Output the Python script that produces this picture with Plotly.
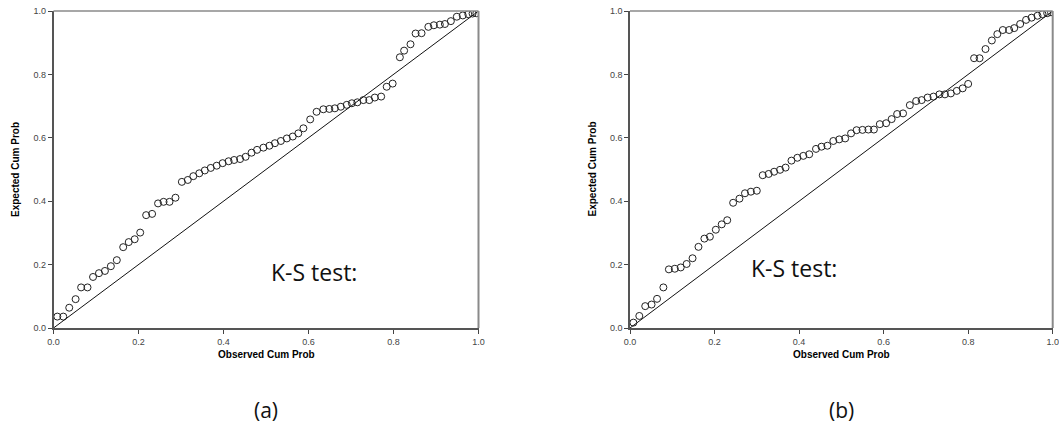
import plotly.graph_objects as go

# Panel (a) observed vs expected cumulative probabilities
obs_a = [0.009, 0.023, 0.037, 0.052, 0.065, 0.080, 0.093, 0.107, 0.121, 0.135,
         0.149, 0.164, 0.177, 0.191, 0.204, 0.218, 0.232, 0.246, 0.259, 0.273,
         0.287, 0.302, 0.316, 0.329, 0.343, 0.356, 0.370, 0.384, 0.398, 0.412,
         0.425, 0.439, 0.452, 0.466, 0.479, 0.494, 0.508, 0.521, 0.535, 0.549,
         0.563, 0.576, 0.588, 0.604, 0.619, 0.635, 0.649, 0.662, 0.676, 0.690,
         0.702, 0.715, 0.729, 0.743, 0.756, 0.771, 0.784, 0.798, 0.815, 0.825,
         0.840, 0.852, 0.866, 0.882, 0.895, 0.909, 0.921, 0.935, 0.949, 0.963,
         0.976, 0.986, 0.995]
exp_a = [0.036, 0.036, 0.064, 0.091, 0.128, 0.128, 0.161, 0.173, 0.180, 0.195,
         0.214, 0.255, 0.271, 0.280, 0.301, 0.356, 0.360, 0.393, 0.398, 0.398,
         0.411, 0.461, 0.467, 0.479, 0.488, 0.497, 0.505, 0.512, 0.520, 0.526,
         0.530, 0.533, 0.540, 0.553, 0.562, 0.569, 0.575, 0.583, 0.590, 0.598,
         0.604, 0.614, 0.630, 0.658, 0.682, 0.690, 0.691, 0.693, 0.698, 0.704,
         0.709, 0.712, 0.719, 0.719, 0.727, 0.730, 0.761, 0.771, 0.854, 0.875,
         0.895, 0.929, 0.930, 0.950, 0.955, 0.957, 0.959, 0.968, 0.982, 0.986,
         0.990, 0.992, 0.993]

# Panel (b)
obs_b = [0.008, 0.022, 0.036, 0.051, 0.064, 0.079, 0.092, 0.106, 0.120, 0.134,
         0.148, 0.162, 0.176, 0.189, 0.203, 0.217, 0.230, 0.244, 0.259, 0.272,
         0.286, 0.300, 0.314, 0.328, 0.341, 0.355, 0.368, 0.382, 0.396, 0.410,
         0.424, 0.440, 0.453, 0.467, 0.481, 0.495, 0.509, 0.523, 0.536, 0.550,
         0.564, 0.577, 0.591, 0.606, 0.619, 0.632, 0.646, 0.662, 0.677, 0.690,
         0.704, 0.718, 0.732, 0.745, 0.759, 0.773, 0.787, 0.800, 0.814, 0.827,
         0.841, 0.856, 0.869, 0.882, 0.897, 0.909, 0.923, 0.937, 0.950, 0.964,
         0.976, 0.987, 0.996]
exp_b = [0.017, 0.038, 0.069, 0.074, 0.092, 0.128, 0.185, 0.187, 0.191, 0.202,
         0.220, 0.256, 0.282, 0.288, 0.310, 0.327, 0.340, 0.395, 0.408, 0.425,
         0.430, 0.433, 0.482, 0.486, 0.493, 0.499, 0.506, 0.528, 0.537, 0.543,
         0.548, 0.565, 0.572, 0.575, 0.590, 0.595, 0.598, 0.614, 0.624, 0.625,
         0.626, 0.626, 0.643, 0.646, 0.659, 0.675, 0.677, 0.703, 0.716, 0.719,
         0.727, 0.730, 0.737, 0.737, 0.740, 0.748, 0.756, 0.770, 0.851, 0.851,
         0.880, 0.907, 0.927, 0.940, 0.940, 0.946, 0.959, 0.972, 0.979, 0.985,
         0.990, 0.993, 0.996]

ref_line = [0.0, 1.0]
tick_vals = [0.0, 0.2, 0.4, 0.6, 0.8, 1.0]
tick_text = ["0.0", "0.2", "0.4", "0.6", "0.8", "1.0"]
x_title = "Observed Cum Prob"
y_title = "Expected Cum Prob"
ks_label = "K-S test:"
panel_labels = ["(a)", "(b)"]

W, H = 1059, 426
# plot-area pixel boxes (left, right, top, bottom)
boxes = [(53.5, 478.5, 11, 328), (630, 1052.7, 11, 328)]
ks_pos = [(313.5, 272), (794, 268)]

def px(x):
    return x / W

def py(y):
    return 1 - y / H

fig = go.Figure()
for i, (obs, exp) in enumerate([(obs_a, exp_a), (obs_b, exp_b)]):
    xa = "x" if i == 0 else "x2"
    ya = "y" if i == 0 else "y2"
    fig.add_trace(go.Scatter(x=ref_line, y=ref_line, mode="lines",
                             line=dict(color="#111111", width=1),
                             xaxis=xa, yaxis=ya, showlegend=False, hoverinfo="skip"))
    fig.add_trace(go.Scatter(x=obs, y=exp, mode="markers",
                             marker=dict(symbol="circle-open", size=7,
                                         color="#222222", line=dict(width=1, color="#222222")),
                             xaxis=xa, yaxis=ya, showlegend=False))

axis_common = dict(range=[0, 1], tickvals=tick_vals, ticktext=tick_text,
                   ticks="outside", ticklen=4, tickcolor="#444444", tickwidth=1,
                   showgrid=False, zeroline=False, showline=True, linecolor="#555555",
                   linewidth=1.5, automargin=False,
                   tickfont=dict(family="Liberation Sans, Arial", size=9, color="#444444"),
                   fixedrange=True)

for i, (l, r, t, b) in enumerate(boxes):
    sx = "" if i == 0 else "2"
    fig.update_layout(**{
        "xaxis" + sx: dict(domain=[px(l), px(r)], anchor="y" + sx, **axis_common),
        "yaxis" + sx: dict(domain=[py(b), py(t)], anchor="x" + sx, **axis_common),
    })
    # frame (top and right edges)
    fig.add_shape(type="line", xref="paper", yref="paper",
                  x0=px(l), x1=px(r), y0=py(t), y1=py(t),
                  line=dict(color="#8a8a8a", width=1.5))
    fig.add_shape(type="line", xref="paper", yref="paper",
                  x0=px(r), x1=px(r), y0=py(t), y1=py(b),
                  line=dict(color="#8a8a8a", width=2))
    cx = (l + r) / 2
    fig.add_annotation(x=px(cx), y=py(354), xref="paper", yref="paper",
                       xanchor="center", yanchor="middle",
                       text="<b>" + x_title + "</b>", showarrow=False,
                       font=dict(family="Liberation Sans, Arial", size=10, color="#000000"))
    fig.add_annotation(x=px(l - 38), y=py((t + b) / 2), xref="paper", yref="paper",
                       xanchor="center", yanchor="middle",
                       text="<b>" + y_title + "</b>", showarrow=False, textangle=-90,
                       font=dict(family="Liberation Sans, Arial", size=10, color="#000000"))
    fig.add_annotation(x=px(cx), y=py(410), xref="paper", yref="paper",
                       xanchor="center", yanchor="middle",
                       text=panel_labels[i], showarrow=False,
                       font=dict(family="Open Sans, Liberation Sans", size=21, color="#111111"))
    kx, ky = ks_pos[i]
    fig.add_annotation(x=px(kx), y=py(ky), xref="paper", yref="paper",
                       xanchor="center", yanchor="middle",
                       text=ks_label, showarrow=False,
                       font=dict(family="Open Sans, Liberation Sans", size=23, color="#111111"))

fig.update_layout(width=W, height=H, margin=dict(l=0, r=0, t=0, b=0),
                  paper_bgcolor="white", plot_bgcolor="white")
fig.write_html("out.html", config={"displayModeBar": False},
               post_script="document.body.style.margin='0';document.body.style.overflow='hidden';")
